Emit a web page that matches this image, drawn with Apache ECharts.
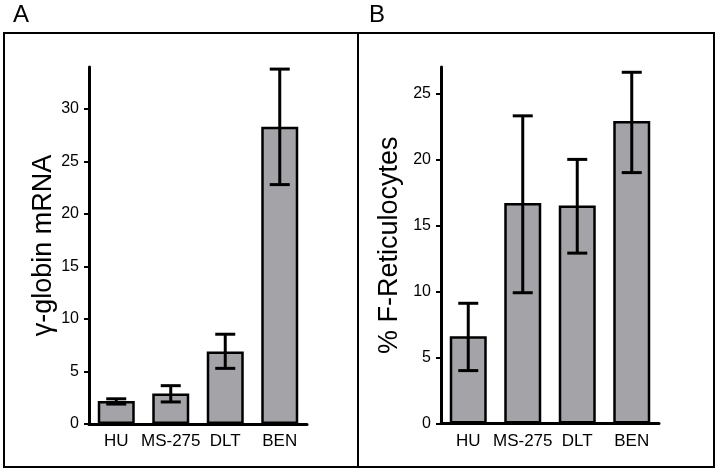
<!DOCTYPE html>
<html>
<head>
<meta charset="utf-8">
<script src="https://cdn.jsdelivr.net/npm/echarts@6/dist/echarts.min.js"></script>
<style>
html,body{margin:0;padding:0;background:#fff;}
#chart{width:717px;height:471px;}
</style>
</head>
<body>
<div id="chart"></div>
<script>
var categories = ['HU', 'MS-275', 'DLT', 'BEN'];
// Panel A: gamma-globin mRNA
var mrnaMean = [2.2, 2.9, 6.9, 28.3];
var mrnaLow  = [1.9, 2.1, 5.3, 22.8];
var mrnaHigh = [2.4, 3.65, 8.55, 33.8];
var mrnaTicks = [0, 5, 10, 15, 20, 25, 30];
// Panel B: % F-Reticulocytes
var retMean = [6.6, 16.7, 16.5, 22.9];
var retLow  = [4.0, 9.9, 12.9, 19.0];
var retHigh = [9.1, 23.3, 20.0, 26.6];
var retTicks = [0, 5, 10, 15, 20, 25];

var FONT = '"Liberation Sans", Arial, sans-serif';
var chart = echarts.init(document.getElementById('chart'));

function errData(low, high) {
  return low.map(function (l, i) { return [i, l, high[i]]; });
}
function errRender(params, api) {
  var lo = api.coord([api.value(0), api.value(1)]);
  var hi = api.coord([api.value(0), api.value(2)]);
  var hw = 10;
  var st = { stroke: '#000', lineWidth: 3 };
  return { type: 'group', children: [
    { type: 'line', shape: { x1: lo[0], y1: lo[1], x2: hi[0], y2: hi[1] }, style: st },
    { type: 'line', shape: { x1: lo[0] - hw, y1: lo[1], x2: lo[0] + hw, y2: lo[1] }, style: st },
    { type: 'line', shape: { x1: hi[0] - hw, y1: hi[1], x2: hi[0] + hw, y2: hi[1] }, style: st }
  ]};
}
function xAxis(gi) {
  return {
    type: 'category', gridIndex: gi, data: categories,
    axisLine: { lineStyle: { color: '#000', width: 3 } },
    axisTick: { alignWithLabel: true, length: 4, lineStyle: { color: '#000', width: 2 } },
    axisLabel: { color: '#000', fontFamily: FONT, fontSize: 17, margin: 9, interval: 0 }
  };
}
function yAxis(gi, max, ticks, name, gap) {
  return {
    type: 'value', gridIndex: gi, min: 0, max: max, interval: 5,
    name: name, nameLocation: 'middle', nameGap: gap,
    nameTextStyle: { color: '#000', fontFamily: FONT, fontSize: 27 },
    splitLine: { show: false },
    axisLine: { show: true, lineStyle: { color: '#000', width: 3 } },
    axisTick: { show: true, length: 5, customValues: ticks, lineStyle: { color: '#000', width: 2 } },
    axisLabel: { color: '#000', fontFamily: FONT, fontSize: 16, margin: 10, customValues: ticks }
  };
}
var barStyle = { color: '#a3a3a8', borderColor: '#000', borderWidth: 2.5 };

chart.setOption({
  animation: false,
  backgroundColor: '#fff',
  grid: [
    { left: 89, top: 67, width: 218, height: 357 },
    { left: 441, top: 67, width: 218, height: 356.4 }
  ],
  xAxis: [xAxis(0), xAxis(1)],
  yAxis: [
    yAxis(0, 34, mrnaTicks, 'γ-globin mRNA', 32),
    yAxis(1, 27, retTicks, '% F-Reticulocytes', 38)
  ],
  series: [
    { type: 'bar', xAxisIndex: 0, yAxisIndex: 0, data: mrnaMean, barWidth: 37, itemStyle: barStyle },
    { type: 'custom', xAxisIndex: 0, yAxisIndex: 0, data: errData(mrnaLow, mrnaHigh), renderItem: errRender, z: 5 },
    { type: 'bar', xAxisIndex: 1, yAxisIndex: 1, data: retMean, barWidth: 37, itemStyle: barStyle },
    { type: 'custom', xAxisIndex: 1, yAxisIndex: 1, data: errData(retLow, retHigh), renderItem: errRender, z: 5 }
  ],
  graphic: [
    { type: 'rect', shape: { x: 4, y: 33, width: 354, height: 434 }, style: { fill: 'none', stroke: '#000', lineWidth: 2 } },
    { type: 'rect', shape: { x: 358, y: 33, width: 356, height: 434 }, style: { fill: 'none', stroke: '#000', lineWidth: 2 } },
    { type: 'text', left: 13, top: 3, style: { text: 'A', fontFamily: FONT, fontSize: 24, fill: '#000' } },
    { type: 'text', left: 369, top: 3, style: { text: 'B', fontFamily: FONT, fontSize: 24, fill: '#000' } }
  ]
});
</script>
</body>
</html>
